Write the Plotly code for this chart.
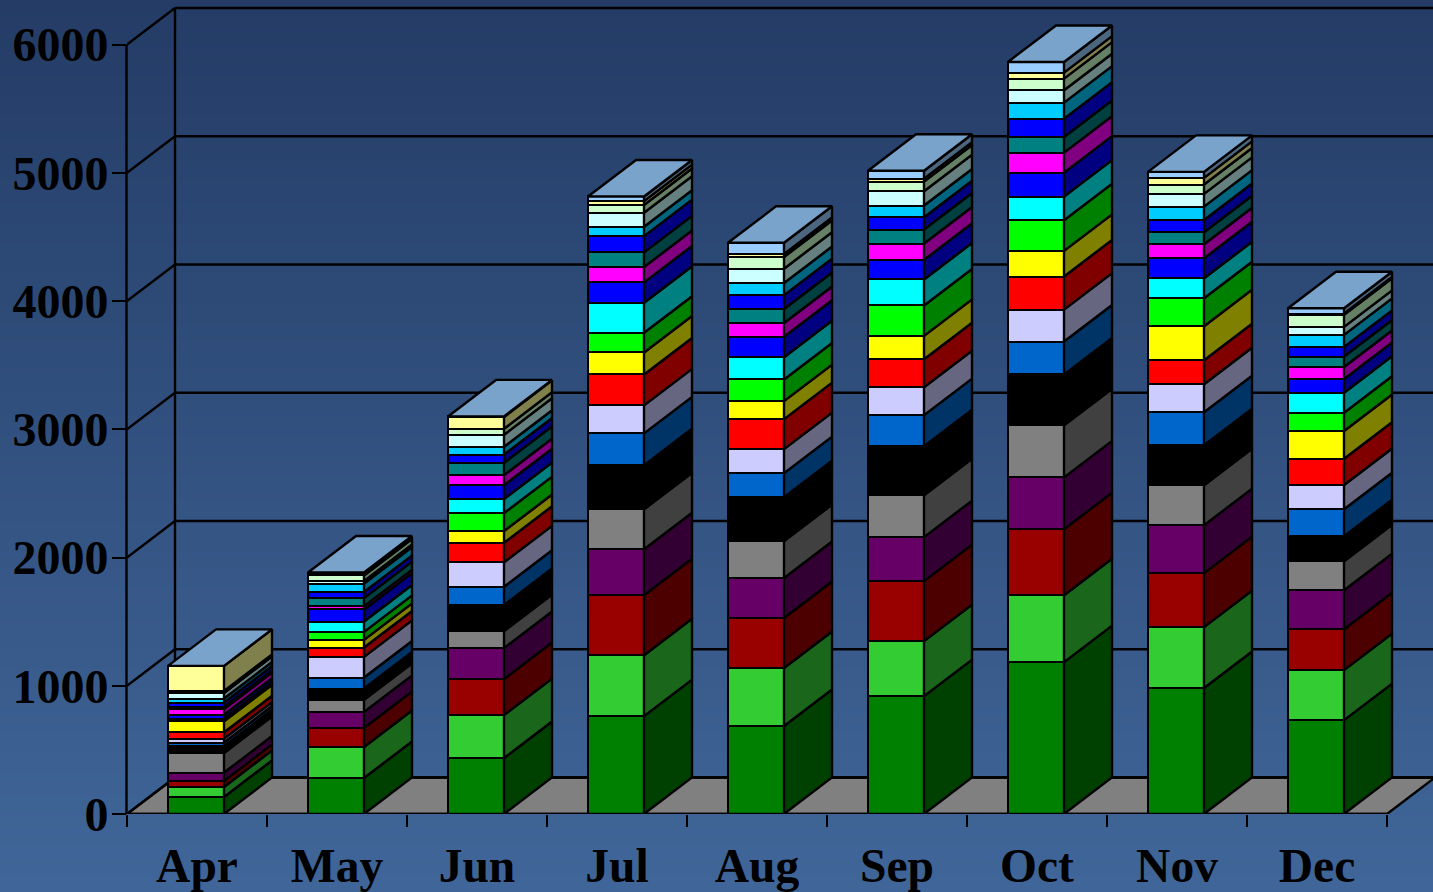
import numpy as np
import plotly.graph_objects as go

MONTHS = ["Apr", "May", "Jun", "Jul", "Aug", "Sep", "Oct", "Nov", "Dec"]
Y_TICKS = [0, 1000, 2000, 3000, 4000, 5000, 6000]

S01 = [133, 281, 436, 763, 686, 919, 1184, 982, 732]
S02 = [78, 242, 335, 475, 452, 429, 522, 475, 390]
S03 = [47, 148, 281, 468, 390, 468, 514, 421, 319]
S04 = [65, 125, 242, 358, 312, 343, 405, 374, 304]
S05 = [153, 94, 132, 312, 288, 327, 405, 312, 226]
S06 = [52, 88, 203, 343, 343, 382, 397, 312, 195]
S07 = [29, 86, 143, 249, 187, 242, 257, 257, 210]
S08 = [31, 161, 190, 218, 187, 218, 249, 218, 189]
S09 = [49, 73, 153, 241, 234, 218, 258, 187, 205]
S10 = [86, 60, 91, 172, 140, 182, 200, 265, 216]
S11 = [8, 62, 140, 153, 169, 237, 239, 218, 143]
S12 = [13, 81, 109, 234, 174, 203, 184, 156, 156]
S13 = [31, 94, 109, 159, 159, 153, 187, 156, 107]
S14 = [44, 26, 78, 120, 107, 127, 156, 109, 94]
S15 = [16, 62, 96, 114, 109, 109, 122, 94, 81]
S16 = [34, 49, 65, 127, 109, 96, 143, 96, 75]
S17 = [31, 65, 60, 73, 94, 91, 125, 104, 94]
S18 = [44, 21, 94, 109, 112, 112, 96, 99, 62]
S19 = [16, 42, 47, 60, 91, 75, 91, 73, 94]
S20 = [195, 18, 91, 31, 23, 23, 47, 52, 10]
S21 = [0, 5, 5, 36, 88, 62, 83, 47, 42]

SERIES = [S01, S02, S03, S04, S05, S06, S07, S08, S09, S10, S11,
          S12, S13, S14, S15, S16, S17, S18, S19, S20, S21]
COLORS = ["#008000", "#33CC33", "#990000", "#660066", "#808080", "#000000", "#0066CC",
          "#CCCCFF", "#FF0000", "#FFFF00", "#00FF00", "#00FFFF", "#0000FF", "#FF00FF",
          "#008080", "#0000FF", "#00CCFF", "#CCFFFF", "#CCFFCC", "#FFFF99", "#99CCFF"]

W, H = 1433, 892
LEFT, BOTTOM = 127, 78
PX_PER_CAT = 140.0
PX_PER_UNIT = 0.12825
DEPTH_X = 48 / PX_PER_CAT
DEPTH_Y = 36.5 / PX_PER_UNIT
BAR_W = 0.4
N = len(MONTHS)
LW = 2.4


def shade(hex_color, k):
    r, g, b = (int(hex_color[i:i + 2], 16) for i in (1, 3, 5))
    return f"rgb({round(r * k)},{round(g * k)},{round(b * k)})"


label_pos = np.arange(N) + 0.5
centers = label_pos - 1 / PX_PER_CAT
x_max = (W - LEFT) / PX_PER_CAT
y_max = (H - BOTTOM) / PX_PER_UNIT

shapes = []
# page background gradient
GRAD_TOP, GRAD_BOTTOM = (36, 60, 102), (64, 102, 153)
STEPS = 223
for i in range(STEPS):
    t = i / (STEPS - 1)
    c = [round(a + (b - a) * t) for a, b in zip(GRAD_TOP, GRAD_BOTTOM)]
    y_top = (H - BOTTOM - i * H / STEPS) / (H - BOTTOM)
    y_bot = (H - BOTTOM - (i + 1.3) * H / STEPS) / (H - BOTTOM)
    shapes.append(dict(type="rect", xref="paper", yref="paper", layer="below",
                       x0=-LEFT / (W - LEFT), x1=1, y0=y_bot, y1=y_top,
                       fillcolor=f"rgb({c[0]},{c[1]},{c[2]})", line_width=0))

line = dict(color="black", width=LW)
# floor
shapes.append(dict(type="path", layer="below", xref="x", yref="y", fillcolor="#808080", line=line,
                   path=f"M 0 0 L {DEPTH_X} {DEPTH_Y} L {N + DEPTH_X} {DEPTH_Y} L {N} 0 Z"))
# walls
for v in Y_TICKS:
    shapes.append(dict(type="line", layer="below", xref="x", yref="y", x0=0, y0=v,
                       x1=DEPTH_X, y1=v + DEPTH_Y, line=line))
    shapes.append(dict(type="line", layer="below", xref="x", yref="y", x0=DEPTH_X, y0=v + DEPTH_Y,
                       x1=x_max, y1=v + DEPTH_Y, line=line))
shapes.append(dict(type="line", layer="below", xref="x", yref="y", x0=DEPTH_X, y0=DEPTH_Y,
                   x1=DEPTH_X, y1=Y_TICKS[-1] + DEPTH_Y, line=line))
# value axis line (paper reference so it is not clipped at the plot edge)
shapes.append(dict(type="line", layer="above", xref="paper", yref="paper", x0=-0.5 / (W - LEFT),
                   x1=-0.5 / (W - LEFT), y0=0, y1=Y_TICKS[-1] / y_max, line=line))

fig = go.Figure()

# front faces
for name, vals, col in zip(range(1, 22), SERIES, COLORS):
    fig.add_trace(go.Bar(x=centers, y=vals, width=BAR_W, name=f"Series {name}",
                         marker=dict(color=col, line=dict(color="black", width=LW)),
                         showlegend=False))

# side faces
base = np.zeros(N)
for vals, col in zip(SERIES, COLORS):
    vals = np.array(vals, dtype=float)
    xs, ys = [], []
    for i in range(N):
        r = centers[i] + BAR_W / 2
        lo, hi = base[i], base[i] + vals[i]
        xs += [r, r + DEPTH_X, r + DEPTH_X, r, r, None]
        ys += [lo, lo + DEPTH_Y, hi + DEPTH_Y, hi, lo, None]
    fig.add_trace(go.Scatter(x=xs, y=ys, mode="lines", fill="toself", fillcolor=shade(col, 0.5),
                             line=dict(color="black", width=LW), hoverinfo="skip", showlegend=False))
    base = base + vals

# top faces
xs, ys = [], []
for i in range(N):
    l, r, t = centers[i] - BAR_W / 2, centers[i] + BAR_W / 2, base[i]
    xs += [l, r, r + DEPTH_X, l + DEPTH_X, l, None]
    ys += [t, t, t + DEPTH_Y, t + DEPTH_Y, t, None]
fig.add_trace(go.Scatter(x=xs, y=ys, mode="lines", fill="toself", fillcolor=shade(COLORS[-1], 0.8),
                         line=dict(color="black", width=LW), hoverinfo="skip", showlegend=False))

# category axis line
fig.add_trace(go.Scatter(x=[0, N], y=[0, 0], mode="lines", cliponaxis=False,
                         line=dict(color="black", width=LW), hoverinfo="skip", showlegend=False))

X_FONT = dict(family="Liberation Serif", size=47.5, color="black", weight=700)
Y_FONT = dict(family="Liberation Serif", size=48, color="black", weight=700)
fig.update_layout(
    width=W, height=H, barmode="stack", bargap=0, shapes=shapes,
    margin=dict(l=LEFT, r=0, t=0, b=BOTTOM, pad=0),
    paper_bgcolor=f"rgb{GRAD_TOP}", plot_bgcolor="rgba(0,0,0,0)",
    xaxis=dict(range=[0, x_max], tickmode="array", tickvals=label_pos.tolist(), ticktext=MONTHS,
               ticks="", showgrid=False, zeroline=False, showline=False, tickfont=X_FONT,
               ticklabelstandoff=19, automargin=False,
               minor=dict(tickmode="array", tickvals=list(range(N + 1)), ticks="outside",
                          ticklen=12, tickwidth=LW, tickcolor="black", showgrid=False)),
    yaxis=dict(range=[0, y_max], tickmode="array", tickvals=Y_TICKS, ticks="outside",
               ticklen=14, tickwidth=LW, tickcolor="black", showgrid=False, zeroline=False,
               showline=False, tickfont=Y_FONT, automargin=False, ticklabelstandoff=-6),
)
fig.write_html("out.html", config=dict(displayModeBar=False),
               post_script="document.body.style.margin='0';document.documentElement.style.overflow='hidden';")
